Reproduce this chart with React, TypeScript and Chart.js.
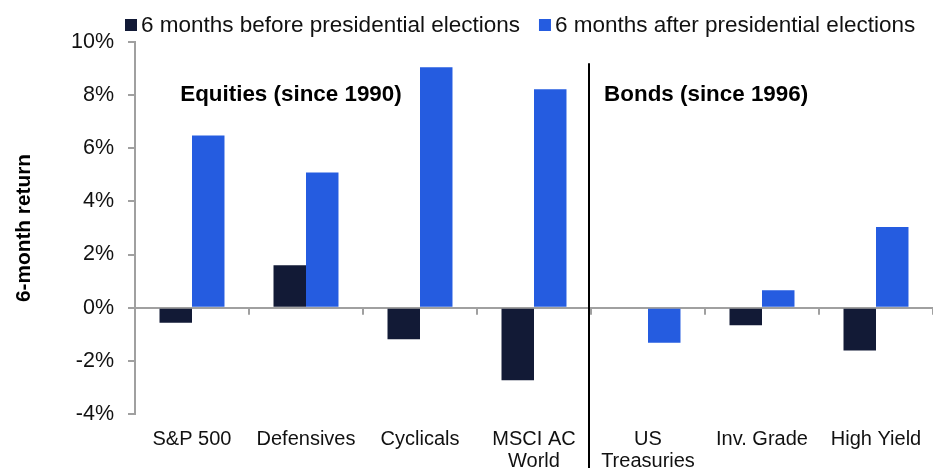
import React, { useEffect, useRef } from "react";
import { Chart, registerables } from "chart.js";

Chart.register(...registerables);

// Asset classes along the x axis (arrays wrap onto two lines)
const categories: (string | string[])[] = [
  "S&P 500",
  "Defensives",
  "Cyclicals",
  ["MSCI AC", "World"],
  ["US", "Treasuries"],
  "Inv. Grade",
  "High Yield",
];

// Average 6-month returns, in percent
const beforeElections = [-0.57, 1.6, -1.19, -2.73, 0, -0.66, -1.61];
const afterElections = [6.48, 5.09, 9.05, 8.22, -1.32, 0.66, 3.04];

const seriesLabels = [
  "6 months before presidential elections",
  "6 months after presidential elections",
];

// Group headings and where they sit (category index, return %)
const groupLabels = ["Equities (since 1990)", "Bonds (since 1996)"];
const groupLabelX = [0.868, 4.51];
const groupLabelY = 8;

const yTicks = { min: -4, max: 10, step: 2 };

const DARK = "#121a36";
const BLUE = "#255ce0";
const AXIS = "#a0a0a0";
const FONT = "'Liberation Sans', Arial, Helvetica, sans-serif";

// Zero line tick marks, the equities/bonds divider, group headings and legend
const decorations = {
  id: "decorations",
  afterDatasetsDraw(chart: any) {
    const { ctx } = chart;
    const x = chart.scales.x;
    const y = chart.scales.y;
    const y0 = y.getPixelForValue(0);

    ctx.save();
    // category boundary ticks hanging from the zero line
    ctx.strokeStyle = AXIS;
    ctx.lineWidth = 2;
    for (let i = 0; i <= categories.length; i++) {
      const px = Math.round(x.getPixelForValue(i - 0.5));
      ctx.beginPath();
      ctx.moveTo(px, y0);
      ctx.lineTo(px, y0 + 7);
      ctx.stroke();
    }

    // divider between equities and bonds
    const dx = Math.round(x.getPixelForValue(3.5)) - 2;
    ctx.strokeStyle = "#000";
    ctx.lineWidth = 2;
    ctx.beginPath();
    ctx.moveTo(dx, y.getPixelForValue(9.2));
    ctx.lineTo(dx, chart.height);
    ctx.stroke();

    // group headings
    ctx.fillStyle = "#000";
    ctx.font = `bold 22.4px ${FONT}`;
    ctx.textAlign = "center";
    ctx.textBaseline = "middle";
    groupLabels.forEach((t, i) => {
      ctx.fillText(t, x.getPixelForValue(groupLabelX[i]), y.getPixelForValue(groupLabelY));
    });

    // legend
    ctx.font = `22.5px ${FONT}`;
    ctx.textAlign = "left";
    let lx = 125;
    const ly = 25;
    chart.data.datasets.forEach((ds: any) => {
      ctx.fillStyle = ds.backgroundColor;
      ctx.fillRect(lx, ly - 6, 12, 12);
      ctx.fillStyle = "#111";
      ctx.fillText(ds.label, lx + 16, ly + 1);
      lx += 16 + ctx.measureText(ds.label).width + 19;
    });
    ctx.restore();
  },
};

export default function App() {
  const canvasRef = useRef<HTMLCanvasElement | null>(null);

  useEffect(() => {
    const canvas = canvasRef.current;
    if (!canvas) return;
    const chart = new Chart(canvas, {
      type: "bar",
      data: {
        labels: categories,
        datasets: [
          {
            label: seriesLabels[0],
            data: beforeElections,
            backgroundColor: DARK,
            categoryPercentage: 0.57,
            barPercentage: 1,
          },
          {
            label: seriesLabels[1],
            data: afterElections,
            backgroundColor: BLUE,
            categoryPercentage: 0.57,
            barPercentage: 1,
          },
        ],
      },
      options: {
        responsive: false,
        animation: false,
        devicePixelRatio: 1,
        layout: { padding: { top: 42, left: 0, right: 0, bottom: 0 } },
        plugins: {
          legend: { display: false },
          tooltip: { enabled: false },
        },
        scales: {
          x: {
            grid: { display: false },
            border: { display: false },
            ticks: {
              color: "#111",
              font: { family: FONT, size: 20, lineHeight: 1.1 },
              padding: 6,
              maxRotation: 0,
              autoSkip: false,
            },
            afterFit(scale: any) {
              scale.height = 54;
            },
          },
          y: {
            min: yTicks.min,
            max: yTicks.max,
            border: { color: AXIS, width: 2 },
            grid: {
              color: (c: any) => (c.tick && c.tick.value === 0 ? AXIS : "transparent"),
              tickColor: AXIS,
              lineWidth: 2,
              tickLength: 7,
            },
            ticks: {
              stepSize: yTicks.step,
              color: "#111",
              font: { family: FONT, size: 21.5 },
              padding: 14,
              callback: (v: any) => `${v}%`,
            },
            title: {
              display: true,
              text: "6-month return",
              color: "#000",
              font: { family: FONT, size: 20.8, weight: "bold" },
              padding: { top: 12, bottom: 0 },
            },
            afterFit(scale: any) {
              scale.width = 135;
            },
          },
        },
      },
      plugins: [decorations],
    });
    return () => chart.destroy();
  }, []);

  return (
    <div style={{ position: "absolute", left: 0, top: 0, width: 933, height: 468, background: "#fff" }}>
      <canvas ref={canvasRef} width={933} height={468} style={{ display: "block" }} />
    </div>
  );
}
